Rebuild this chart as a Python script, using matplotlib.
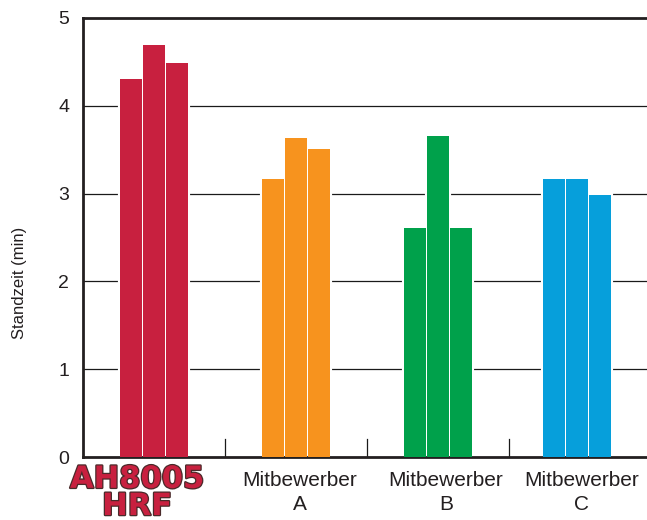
import matplotlib
matplotlib.use("Agg")
import matplotlib.pyplot as plt
import matplotlib.patheffects as pe
import numpy as np

plt.rcParams['font.family'] = ['Liberation Sans', 'DejaVu Sans']

groups = ["AH8005\nHRF", "Mitbewerber\nA", "Mitbewerber\nB", "Mitbewerber\nC"]
values = [
    [4.30, 4.69, 4.49],
    [3.17, 3.63, 3.51],
    [2.61, 3.66, 2.61],
    [3.17, 3.17, 2.98],
]
colors = ["#C8203F", "#F7931E", "#00A14B", "#069FDB"]
yticks = [0, 1, 2, 3, 4, 5]
ylabel = "Standzeit (min)"
txt = "#231F20"

fig = plt.figure(figsize=(6.47, 5.2), dpi=100)
ax = fig.add_axes([83/647, 1-457/520, 1-83/647, (457-18)/520])

group_pos = np.array([0.0, 1.0, 2.0, 2.975])
label_pos = [1.028, 2.056, 3.007]
pitch = 0.162
width = 0.154
offsets = np.array([-1, 0, 1]) * pitch
for gp, vals, c in zip(group_pos, values, colors):
    xs = gp + offsets
    ax.bar(xs, vals, width=width, color="white", edgecolor="white", linewidth=3.0, zorder=2)
    ax.bar(xs, vals, width=width, color=c, edgecolor="none", linewidth=0, zorder=3)

for y in yticks[1:5]:
    ax.axhline(y, color="#1a1a1a", linewidth=0.9, zorder=1)

for sx in [0.5, 1.5, 2.5]:
    ax.plot([sx, sx], [0, 0.21], color="#1a1a1a", linewidth=0.9, zorder=1)

ax.set_xlim(-0.5, 3.47)
ax.set_ylim(0, 5)
ax.set_yticks(yticks)
ax.set_yticklabels([str(v) for v in yticks], fontsize=14, color=txt)
ax.tick_params(axis='y', length=0, pad=10)
ax.set_xticks(label_pos)
ax.set_xticklabels(groups[1:], fontsize=15, color=txt, linespacing=1.35)
ax.tick_params(axis='x', length=0, pad=10)

ax.spines['right'].set_visible(False)
for s in ['left', 'bottom', 'top']:
    ax.spines[s].set_linewidth(2.0)
    ax.spines[s].set_color("#231F20")

ax.set_ylabel(ylabel, fontsize=12, color=txt)
ax.yaxis.set_label_coords(-0.1, 0.396)

effects = [pe.withStroke(linewidth=1.8, foreground="#4a2a2a")]
fig.text(137/647, 1-515/520, groups[0], family="DejaVu Sans", weight="bold",
         fontsize=22, color=colors[0], ha="center", va="baseline",
         multialignment="center", linespacing=0.92, path_effects=effects)

fig.savefig("out.png", dpi=100)
